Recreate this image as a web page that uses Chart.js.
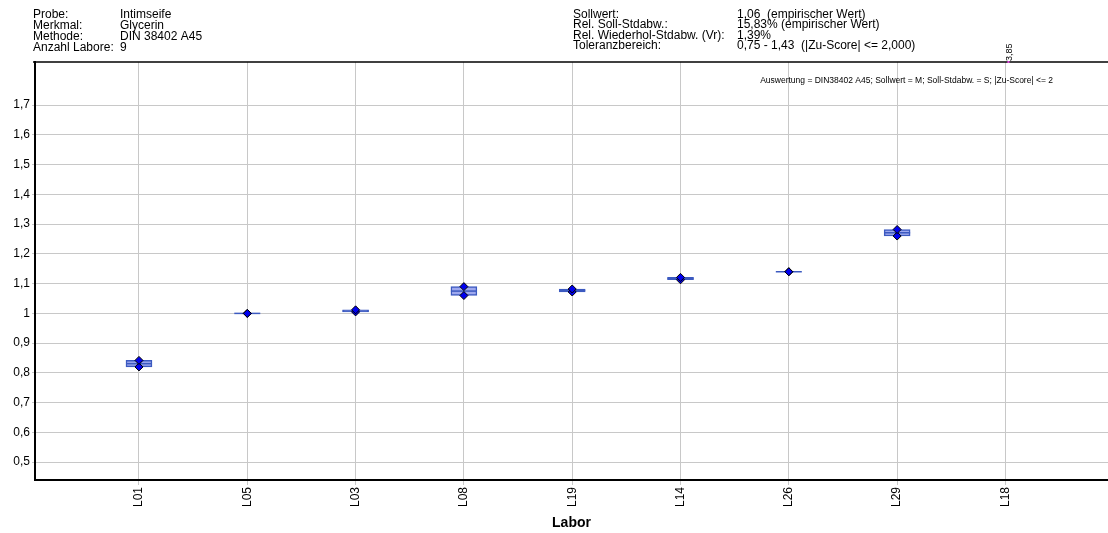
<!DOCTYPE html>
<html>
<head>
<meta charset="utf-8">
<script src="https://cdn.jsdelivr.net/npm/chart.js@4.4.1/dist/chart.umd.min.js"></script>
<style>
  html, body { margin: 0; padding: 0; background: #fff; }
  canvas { display: block; }
</style>
</head>
<body>
<canvas id="labChart" width="1108" height="533"></canvas>
<script>
// ---- Daten ----
const labs = ['L01', 'L05', 'L03', 'L08', 'L19', 'L14', 'L26', 'L29', 'L18'];
const wert1 = [0.842, 1.0, 1.012, 1.09, 1.082, 1.121, 1.14, 1.282, 3.85];
const wert2 = [0.82, 1.0, 1.005, 1.06, 1.072, 1.113, 1.14, 1.26, null];
const mittel = [0.831, 1.0, 1.008, 1.075, 1.077, 1.117, 1.14, 1.271, null];
const yTicks = [0.5, 0.6, 0.7, 0.8, 0.9, 1.0, 1.1, 1.2, 1.3, 1.4, 1.5, 1.6, 1.7];
const yMin = 0.44;
const yMax = 1.845;

const kopfLinks = [
    ['Probe:', 'Intimseife'],
    ['Merkmal:', 'Glycerin'],
    ['Methode:', 'DIN 38402 A45'],
    ['Anzahl Labore:', '9']
];
const kopfRechts = [
    ['Sollwert:', '1,06  (empirischer Wert)'],
    ['Rel. Soll-Stdabw.:', '15,83% (empirischer Wert)'],
    ['Rel. Wiederhol-Stdabw. (Vr):', '1,39%'],
    ['Toleranzbereich:', '0,75 - 1,43  (|Zu-Score| <= 2,000)']
];
const auswertung = 'Auswertung = DIN38402 A45; Sollwert = M; Soll-Stdabw. = S; |Zu-Score| <= 2';

const FONT = 'Arial, "Liberation Sans", sans-serif';
const fmt = v => String(Math.round(v * 100) / 100).replace('.', ',');

// boxes only where both replicates are known
const boxData = [];
labs.forEach((l, i) => {
    if (wert1[i] != null && wert2[i] != null) {
        boxData.push({ x: i + 1, y: [Math.min(wert1[i], wert2[i]), Math.max(wert1[i], wert2[i])] });
    }
});
const pts1 = wert1.map((v, i) => ({ x: i + 1, y: v }));
const pts2 = wert2.map((v, i) => ({ x: i + 1, y: v }));
const midPts = mittel.map((v, i) => ({ x: i + 1, y: v }));

// header texts, frame line, out-of-range labels
const extrasPlugin = {
    id: 'extras',
    beforeDraw(chart) {
        const ctx = chart.ctx;
        ctx.save();
        ctx.fillStyle = '#fff';
        ctx.fillRect(0, 0, chart.width, chart.height);
        ctx.restore();
    },
    afterDraw(chart) {
        const ctx = chart.ctx;
        const area = chart.chartArea;
        const xs = chart.scales.x;
        ctx.save();
        ctx.fillStyle = '#000';
        ctx.font = '12px ' + FONT;
        ctx.textBaseline = 'alphabetic';
        ctx.textAlign = 'left';
        const leftBase = [17.5, 28.5, 39.5, 50.5];
        kopfLinks.forEach((row, i) => {
            ctx.fillText(row[0], 33, leftBase[i]);
            ctx.fillText(row[1], 120, leftBase[i]);
        });
        const rightBase = [17.5, 28, 38.5, 49];
        kopfRechts.forEach((row, i) => {
            ctx.fillText(row[0], 573, rightBase[i]);
            ctx.fillText(row[1], 737, rightBase[i]);
        });

        // top frame line
        ctx.strokeStyle = '#000';
        ctx.lineWidth = 1.5;
        ctx.beginPath();
        ctx.moveTo(33, area.top);
        ctx.lineTo(chart.width, area.top);
        ctx.stroke();

        ctx.font = '8.5px ' + FONT;
        ctx.textAlign = 'right';
        ctx.fillText(auswertung, 1053, 83);

        // values above the scale
        wert1.forEach((v, i) => {
            if (v != null && v > yMax) {
                const px = xs.getPixelForValue(i + 1);
                ctx.save();
                ctx.translate(px + 4, area.top - 1);
                ctx.rotate(-Math.PI / 2);
                ctx.font = '9px ' + FONT;
                ctx.textAlign = 'left';
                ctx.textBaseline = 'middle';
                ctx.fillText(fmt(v), 0, 0);
                ctx.restore();
                ctx.fillStyle = '#e040e0';
                ctx.fillRect(px + 2, area.top - 1, 2, 2);
                ctx.fillStyle = '#000';
            }
        });
        ctx.restore();
    }
};

new Chart(document.getElementById('labChart'), {
    type: 'bar',
    data: {
        datasets: [
            {
                type: 'scatter',
                label: 'Wert 1',
                data: pts1,
                pointStyle: 'rectRot',
                pointRadius: 4,
                pointBackgroundColor: '#0000f0',
                pointBorderColor: '#000',
                pointBorderWidth: 1,
                order: 1
            },
            {
                type: 'scatter',
                label: 'Wert 2',
                data: pts2,
                pointStyle: 'rectRot',
                pointRadius: 4,
                pointBackgroundColor: '#0000f0',
                pointBorderColor: '#000',
                pointBorderWidth: 1,
                order: 1
            },
            {
                type: 'scatter',
                label: 'Mittel',
                data: midPts,
                pointStyle: 'line',
                pointRadius: 13,
                pointBorderColor: '#3c5ac0',
                pointBorderWidth: 1.5,
                order: 2
            },
            {
                type: 'bar',
                label: 'Spanne',
                data: boxData,
                barThickness: 26,
                backgroundColor: '#9ea8ee',
                borderColor: '#3c5ac0',
                borderWidth: 1.5,
                borderSkipped: false,
                order: 3
            }
        ]
    },
    options: {
        responsive: false,
        animation: false,
        devicePixelRatio: 1,
        layout: {
            autoPadding: false,
            padding: { top: 62, right: 0, left: 0, bottom: 0 }
        },
        plugins: {
            legend: { display: false },
            tooltip: { enabled: false }
        },
        scales: {
            x: {
                type: 'linear',
                min: 0.04,
                max: 9.947,
                offset: false,
                afterBuildTicks: scale => {
                    scale.ticks = labs.map((l, i) => ({ value: i + 1 }));
                },
                afterFit: scale => {
                    scale.height = 53;
                    scale.paddingLeft = 0;
                    scale.paddingRight = 0;
                },
                grid: {
                    offset: false,
                    color: '#c8c8c8',
                    lineWidth: 1,
                    drawTicks: true,
                    tickLength: 5
                },
                border: { display: true, color: '#000', width: 2 },
                ticks: {
                    autoSkip: false,
                    minRotation: 90,
                    maxRotation: 90,
                    padding: 2,
                    color: '#000',
                    font: { family: FONT, size: 12 },
                    callback: v => labs[Math.round(v) - 1] || ''
                },
                title: {
                    display: true,
                    text: 'Labor',
                    color: '#000',
                    font: { family: FONT, size: 14, weight: 'bold' },
                    padding: { top: 0, bottom: 1 }
                }
            },
            y: {
                type: 'linear',
                min: yMin,
                max: yMax,
                afterBuildTicks: scale => {
                    scale.ticks = yTicks.map(v => ({ value: v }));
                },
                afterFit: scale => {
                    scale.width = 35;
                    scale.paddingTop = 0;
                    scale.paddingBottom = 0;
                },
                grid: {
                    color: '#c8c8c8',
                    lineWidth: 1,
                    drawTicks: true,
                    tickLength: 3
                },
                border: { display: true, color: '#000', width: 2 },
                ticks: {
                    padding: 2,
                    color: '#000',
                    font: { family: FONT, size: 12 },
                    callback: v => fmt(v)
                }
            }
        }
    },
    plugins: [extrasPlugin]
});
</script>
</body>
</html>
